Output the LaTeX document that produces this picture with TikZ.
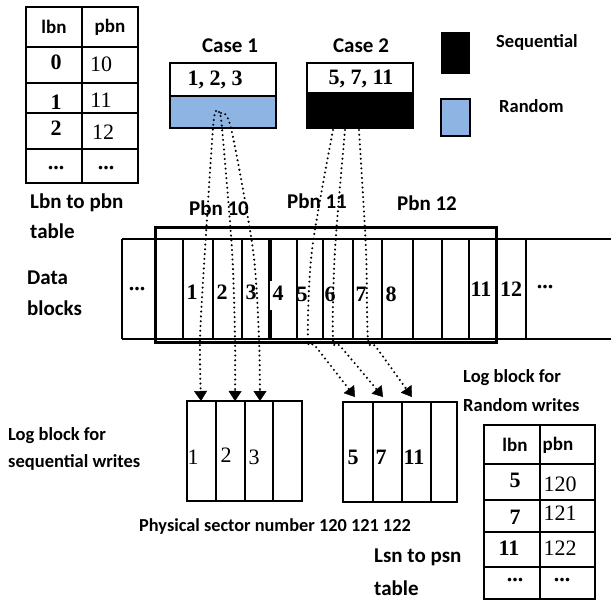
\documentclass[tikz,border=0pt]{standalone}
\usepackage{fontspec}
\setsansfont{Carlito}
\newfontfamily\numfont{Liberation Serif}
\usetikzlibrary{arrows.meta}
\definecolor{rblue}{HTML}{8EB4E3}
\begin{document}
\begin{tikzpicture}[x=1pt,y=-1pt,
 lab/.style={font=\sffamily\bfseries\fontsize{21}{24}\selectfont, inner sep=0pt},
 labw/.style={font=\sffamily\bfseries\fontsize{18.5}{22}\selectfont, inner sep=0pt, anchor=west},
 labl/.style={font=\sffamily\bfseries\fontsize{21}{24}\selectfont, inner sep=0pt, anchor=west},
 hdr/.style={font=\sffamily\bfseries\fontsize{19}{20}\selectfont, inner sep=0pt},
 numb/.style={font=\numfont\bfseries\fontsize{22}{23}\selectfont, inner sep=0pt},
 numr/.style={font=\numfont\fontsize{22}{23}\selectfont, inner sep=0pt},
 grid/.style={line width=1.4pt},
 cell/.style={line width=1.2pt},
 frame/.style={line width=3pt},
 dotline/.style={line width=2.3pt, dash pattern=on 0pt off 4.8pt, line cap=round},
 dotarrow/.style={dotline, -{Triangle[width=13pt,length=10pt,line width=0.4pt]}}
]
\useasboundingbox (0,0) rectangle (611,600);

% ---------- top-left table ----------
\draw[grid] (26,7) rectangle (138,183);
\draw[grid] (82,7) -- (82,183);
\foreach \yy in {47,83,113,149} \draw[grid] (26,\yy) -- (138,\yy);
\node[hdr] (t1h1) at (54,27) {lbn};
\node[hdr] (t1h2) at (110,27) {pbn};
\node[numb] (t1a0) at (56,62) {0};
\node[numr] (t1b0) at (101,64) {10};
\node[numb] (t1a1) at (56,102) {1};
\node[numr] (t1b1) at (101,100) {11};
\node[numb] (t1a2) at (56,128) {2};
\node[numr] (t1b2) at (103,132) {12};
\node[numb] (t1a3) at (56,168) {...};
\node[numb] (t1b3) at (106,168) {...};
\node[labl] (lbn1) at (30,203) {Lbn to pbn};
\node[labl] (lbn2) at (30,231) {table};

% ---------- case boxes ----------
\node[lab] (case1) at (230,46) {Case 1};
\draw[grid, fill=rblue] (170,96) rectangle (276,128);
\draw[grid] (170,63) rectangle (276,96);
\node[numb] (c1t) at (215,80) {1, 2, 3};

\node[lab] (case2) at (361,46) {Case 2};
\fill (307,92) rectangle (413,128);
\draw[grid] (307,63) rectangle (413,128);
\node[numb] (c2t) at (361,79) {5, 7, 11};

% ---------- legend ----------
\fill (441,32) rectangle (470,74);
\draw[grid, fill=rblue] (441,99) rectangle (470,136);
\node[labw] (seq) at (496,42) {Sequential};
\node[labw] (rnd) at (499,106) {Random};

% ---------- data blocks ----------
\node[labl] (db1) at (27,278) {Data};
\node[labl] (db2) at (27,308) {blocks};
\draw[cell] (122,239) -- (611,239);
\draw[cell] (122,339) -- (611,339);
\foreach \xx in {122,183,213,242,269,297,323,353,413,442,469,526}
  \draw[cell] (\xx,239) -- (\xx,339);
\draw[line width=2.5pt] (270.5,239) -- (270.5,281) (270.5,310) -- (270.5,339);
\draw[line width=2.5pt] (382,239) -- (382,339);
\draw[frame] (155,227) rectangle (496,342);
\node[lab] (p10) at (219,208) {Pbn 10};
\node[lab] (p11) at (317,201) {Pbn 11};
\node[lab] (p12) at (427,203) {Pbn 12};
\node[numb] (dl) at (137,289) {...};
\node[numb] (d1) at (192,292) {1};
\node[numb] (d2) at (222,292) {2};
\node[numb] (d3) at (251,292) {3};
\node[numb] (d4) at (278,293) {4};
\node[numb] (d5) at (302,294) {5};
\node[numb] (d6) at (330,294) {6};
\node[numb] (d7) at (361,294) {7};
\node[numb] (d8) at (391,294) {8};
\node[numb] (d11) at (481,289) {11};
\node[numb] (d12) at (511,289) {12};
\node[numb] (dr) at (545,287) {...};

% ---------- log block for sequential writes ----------
\draw[grid] (187,401) rectangle (302,501);
\foreach \xx in {216,245,273} \draw[grid] (\xx,401) -- (\xx,501);
\node[numr] (s1) at (193,457) {1};
\node[numr] (s2) at (226,455) {2};
\node[numr] (s3) at (254,457) {3};
\node[labw] (ls1) at (8,436) {Log block for};
\node[labw] (ls2) at (8,462) {sequential writes};
\node[font=\sffamily\bfseries\fontsize{18.3}{20}\selectfont, inner sep=0pt] (psn) at (275,527) {Physical sector number 120 121 122};

% ---------- log block for random writes ----------
\draw[grid] (343,402) rectangle (457,502);
\foreach \xx in {373,402,431} \draw[grid] (\xx,402) -- (\xx,502);
\node[numb] (r1) at (353,457) {5};
\node[numb] (r2) at (381,457) {7};
\node[numb] (r3) at (414,457) {11};
\node[labw] (lr1) at (463,378) {Log block for};
\node[labw] (lr2) at (463,405) {Random writes};

% ---------- right table ----------
\draw[grid] (484,425) rectangle (595,599);
\draw[grid] (540,425) -- (540,599);
\foreach \yy in {464,500,532,567} \draw[grid] (484,\yy) -- (595,\yy);
\node[hdr] (t2h1) at (515,445) {lbn};
\node[hdr] (t2h2) at (558,445) {pbn};
\node[numb] (t2a0) at (515,480) {5};
\node[numr] (t2b0) at (560,484) {120};
\node[numb] (t2a1) at (515,517) {7};
\node[numr] (t2b1) at (560,513) {121};
\node[numb] (t2a2) at (509,548) {11};
\node[numr] (t2b2) at (560,548) {122};
\node[numb] (t2a3) at (515,580) {...};
\node[numb] (t2b3) at (562,580) {...};
\node[labl] (lsn1) at (374,557) {Lsn to psn};
\node[labl] (lsn2) at (374,588) {table};

% ---------- dotted connectors ----------
\coordinate (e1) at (201,401);
\coordinate (e2) at (235,401);
\coordinate (e3) at (260,401);
\coordinate (f1) at (355,397);
\coordinate (f2) at (383,397);
\coordinate (f3) at (412,397);
\draw[dotarrow] plot[smooth] coordinates {(216,111) (213,128) (205,250) (200,339) (e1)};
\draw[dotarrow] plot[smooth] coordinates {(219,112) (222,128) (232,250) (235,339) (e2)};
\draw[dotarrow] plot[smooth] coordinates {(221,113) (231,128) (253,250) (259,339) (e3)};
\draw[dotarrow] plot[smooth] coordinates {(333,130) (312,250) (308,339) (316,347) (f1)};
\draw[dotarrow] plot[smooth] coordinates {(345,130) (335,250) (333,339) (341,347) (f2)};
\draw[dotarrow] plot[smooth] coordinates {(359,130) (366,250) (368,339) (376,347) (f3)};
\end{tikzpicture}
\end{document}
